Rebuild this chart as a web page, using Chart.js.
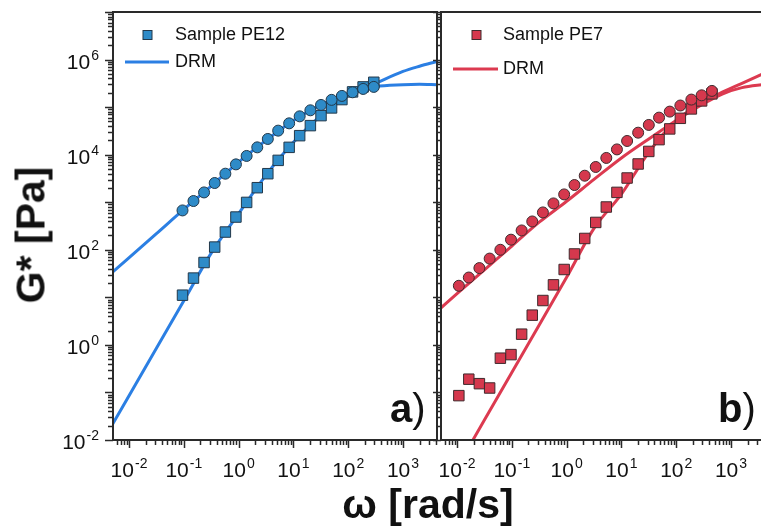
<!DOCTYPE html>
<html>
<head>
<meta charset="utf-8">
<script src="https://cdn.jsdelivr.net/npm/chart.js@4.4.1/dist/chart.umd.min.js"></script>
<style>
  html, body { margin: 0; padding: 0; background: #fff; overflow: hidden; }
  #wrap { position: relative; width: 761px; height: 531px; overflow: hidden;
          font-family: "Liberation Sans", Arial, sans-serif; color: #111; }
  #cA { position: absolute; left: 0; top: 0; }
  #cB { position: absolute; left: 430px; top: 0; }
  .ytitle { position: absolute; left: 31px; top: 235px; white-space: nowrap;
            font-weight: bold; font-size: 41px; line-height: 41px;
            transform: translate(-50%, -50%) rotate(-90deg); }
  .xtitle { position: absolute; left: 428px; top: 484px; white-space: nowrap;
            font-weight: bold; font-size: 41px; line-height: 41px;
            transform: translateX(-50%); }
  .panel { position: absolute; top: 388px; font-size: 40px; line-height: 40px; white-space: nowrap; }
  .panel b { font-weight: bold; }
</style>
</head>
<body>
<div id="wrap">
  <canvas id="cA" width="440" height="531"></canvas>
  <canvas id="cB" width="338" height="531"></canvas>
  <div class="ytitle">G* [Pa]</div>
  <div class="xtitle">ω [rad/s]</div>
  <div class="panel" style="left:390px"><b>a</b>)</div>
  <div class="panel" style="left:718px"><b>b</b>)</div>
</div>
<script>
// ---- data: panel a (Sample PE12) ----
const omegaA = [0.0946, 0.150, 0.234, 0.366, 0.573, 0.893, 1.40, 2.19, 3.41, 5.27,
                8.36, 13.0, 20.4, 31.9, 49.7, 76.7, 120, 187, 293];
const gppA = [672, 1060, 1607, 2535, 3981, 6250, 9400, 14250, 21400, 32000,
              45600, 64000, 85700, 111000, 142000, 172000, 205000, 241000, 266000];
const gpA  = [11.1, 25.4, 54, 114, 236, 488, 991, 2020, 3980, 7590,
              14250, 25100, 40800, 66200, 96200, 144000, 209000, 266000, 333000];
// DRM model curves, panel a
const drmOmegaA = [0.005, 0.0316, 0.1, 0.316, 1, 3.16, 10, 31.6, 100, 316, 1000, 2000, 4170];
const drmGppA   = [33.9, 219, 708, 2190, 7000, 19950, 52500, 111000, 190500, 269000, 295000, 302000, 295000];
const drmGpA    = [0.0214, 0.851, 8.51, 85.1, 575, 3715, 18200, 66100, 175800, 316000, 562000, 724000, 912000];

// ---- data: panel b (Sample PE7) ----
const omegaB = [0.0108, 0.0164, 0.0256, 0.0394, 0.0618, 0.0966, 0.151, 0.236, 0.369, 0.575,
                0.902, 1.39, 2.14, 3.40, 5.30, 8.28, 12.7, 20.2, 31.6, 48.6,
                76.2, 119, 189, 291, 448];
const gppB = [17.5, 26.1, 41.2, 65.3, 100, 163, 255, 394, 610, 944,
              1460, 2300, 3610, 5510, 8530, 12900, 19400, 29000, 42200, 60100,
              80400, 108000, 144000, 177000, 219000];
const gpB  = [0.0857, 0.19, 0.153, 0.124, 0.525, 0.625, 1.68, 4.22, 8.57, 18.3,
              38.5, 81.6, 173, 376, 793, 1610, 3230, 6370, 11700, 20700,
              34800, 58100, 91600, 135000, 190000];
// DRM model curves, panel b
const drmOmegaB = [0.005, 0.01, 0.0316, 0.1, 0.316, 1, 3.16, 10, 31.6, 100, 316, 708, 1585, 4170];
const drmGppB   = [5.89, 12.0, 38.0, 120, 380, 1047, 3020, 8510, 21400, 52500, 117500, 190500, 257000, 302000];
const drmGpB    = [0.00066, 0.00263, 0.0263, 0.263, 2.63, 26.3, 282, 1479, 11200, 52500, 126000, 209000, 316000, 525000];

// ---- axes ----
const xTickValues = [1e-2, 1e-1, 1, 1e1, 1e2, 1e3];
const yTickValues = [1e-2, 1, 1e2, 1e4, 1e6];
const xMin = 0.0051, xMax = 4170;
const yMin = 0.01, yMax = 1e7;

const FONT = '"Liberation Sans", Arial, sans-serif';
Chart.defaults.font.family = FONT;

const pairs = (xs, ys) => xs.map((x, i) => ({ x, y: ys[i] }));
const expOf = v => String(Math.round(Math.log10(v)));

// every decade gets a long tick, 2..9 get short ones
function logTicks(min, max) {
    const out = [];
    for (let d = Math.floor(Math.log10(min)); d <= Math.ceil(Math.log10(max)); d++) {
        for (let m = 1; m <= 9; m++) {
            const v = m * Math.pow(10, d);
            if (v >= min * 0.999 && v <= max * 1.001) out.push({ v, major: m === 1 });
        }
    }
    return out;
}

// "10" with a raised exponent; anchor: 'center' or 'right'
function drawPow(ctx, v, x, base, anchor) {
    const e = expOf(v);
    ctx.font = '21px ' + FONT;
    const w1 = ctx.measureText('10').width;
    ctx.font = '14px ' + FONT;
    const w2 = ctx.measureText(e).width;
    const total = w1 + 1 + w2;
    const x0 = anchor === 'right' ? x - total : x - total / 2;
    ctx.font = '21px ' + FONT;
    ctx.fillText('10', x0, base);
    ctx.font = '14px ' + FONT;
    ctx.fillText(e, x0 + w1 + 1, base - 9);
}

// box, tick marks and tick labels (drawn by hand for short minor ticks and superscripts)
const framePlugin = {
    id: 'frame',
    afterDatasetsDraw(chart, args, o) {
        const { ctx, chartArea: a, scales: { x, y } } = chart;
        ctx.save();
        ctx.strokeStyle = '#2a2a2a';
        ctx.lineWidth = 2;
        ctx.strokeRect(a.left, a.top, a.right - a.left, a.bottom - a.top);
        ctx.lineWidth = 1.5;
        ctx.beginPath();
        logTicks(x.min, x.max).forEach(t => {
            const p = Math.round(x.getPixelForValue(t.v)) + 0.5;
            ctx.moveTo(p, a.bottom);
            ctx.lineTo(p, a.bottom + (t.major ? 8 : 5));
        });
        logTicks(y.min, y.max).forEach(t => {
            const p = Math.round(y.getPixelForValue(t.v)) + 0.5;
            ctx.moveTo(a.left, p);
            ctx.lineTo(a.left - (t.major ? 8 : 5), p);
        });
        ctx.stroke();

        ctx.fillStyle = '#111';
        ctx.textBaseline = 'alphabetic';
        ctx.textAlign = 'left';
        xTickValues.forEach(v => drawPow(ctx, v, x.getPixelForValue(v), a.bottom + 37, 'center'));
        if (o.yLabels) {
            yTickValues.forEach(v => drawPow(ctx, v, a.left - 14, y.getPixelForValue(v) + 9, 'right'));
        }
        ctx.restore();
    }
};

// small legend in the upper-left of each panel
const keyPlugin = {
    id: 'key',
    afterDraw(chart, args, o) {
        const ctx = chart.ctx;
        ctx.save();
        ctx.fillStyle = o.fill;
        ctx.strokeStyle = o.edge;
        ctx.lineWidth = 1;
        ctx.fillRect(o.mx - 4.5, o.my - 4.5, 9, 9);
        ctx.strokeRect(o.mx - 4.5, o.my - 4.5, 9, 9);
        ctx.strokeStyle = o.line;
        ctx.lineWidth = 3;
        ctx.beginPath();
        ctx.moveTo(o.lx0, o.ly);
        ctx.lineTo(o.lx1, o.ly);
        ctx.stroke();
        ctx.fillStyle = '#111';
        ctx.font = '18px ' + FONT;
        ctx.textBaseline = 'middle';
        ctx.fillText(o.sample, o.tx, o.my);
        ctx.fillText('DRM', o.tx, o.ly);
        ctx.restore();
    }
};

function scales(yWidth) {
    const zeroPad = s => { s.paddingLeft = s.paddingRight = s.paddingTop = s.paddingBottom = 0; };
    return {
        x: {
            type: 'logarithmic', min: xMin, max: xMax,
            afterBuildTicks: s => { s.ticks = xTickValues.map(value => ({ value })); },
            afterFit: s => { s.height = 91; zeroPad(s); },
            grid: { display: false, drawTicks: false },
            border: { display: false },
            ticks: { display: false }
        },
        y: {
            type: 'logarithmic', min: yMin, max: yMax,
            afterBuildTicks: s => { s.ticks = yTickValues.map(value => ({ value })); },
            afterFit: s => { s.width = yWidth; zeroPad(s); },
            grid: { display: false, drawTicks: false },
            border: { display: false },
            ticks: { display: false }
        }
    };
}

function panelDatasets(omega, gpp, gp, drmW, drmGpp, drmGp, c) {
    const marker = { backgroundColor: c.fill, borderColor: c.edge, borderWidth: 1, showLine: false, order: 0 };
    const model = { borderColor: c.line, borderWidth: 3, pointRadius: 0, showLine: true,
                    cubicInterpolationMode: 'monotone', order: 1 };
    return [
        { ...marker, data: pairs(omega, gpp), pointStyle: 'circle', pointRadius: 5.5 },
        { ...marker, data: pairs(omega, gp), pointStyle: 'rect', pointRadius: 7.4 },
        { ...model, data: pairs(drmW, drmGpp) },
        { ...model, data: pairs(drmW, drmGp) }
    ];
}

const blue = { fill: '#2e8bc8', edge: '#22384a', line: '#2b7fe3' };
const red  = { fill: '#d5384d', edge: '#3f2a2d', line: '#dc3a50' };

new Chart(document.getElementById('cA'), {
    type: 'scatter',
    data: { datasets: panelDatasets(omegaA, gppA, gpA, drmOmegaA, drmGppA, drmGpA, blue) },
    options: {
        responsive: false, animation: false,
        layout: { autoPadding: false, padding: { left: 0, top: 12, right: 3, bottom: 0 } },
        scales: scales(113),
        plugins: {
            legend: { display: false }, tooltip: { enabled: false },
            frame: { yLabels: true },
            key: { sample: 'Sample PE12', fill: blue.fill, edge: blue.edge, line: blue.line,
                   mx: 147.5, my: 35, lx0: 125, lx1: 169, ly: 62, tx: 175 }
        }
    },
    plugins: [framePlugin, keyPlugin]
});

new Chart(document.getElementById('cB'), {
    type: 'scatter',
    data: { datasets: panelDatasets(omegaB, gppB, gpB, drmOmegaB, drmGppB, drmGpB, red) },
    options: {
        responsive: false, animation: false,
        layout: { autoPadding: false, padding: { left: 0, top: 12, right: 3, bottom: 0 } },
        scales: scales(11),
        plugins: {
            legend: { display: false }, tooltip: { enabled: false },
            frame: { yLabels: false },
            key: { sample: 'Sample PE7', fill: red.fill, edge: red.edge, line: red.line,
                   mx: 46.5, my: 35, lx0: 23, lx1: 68, ly: 69, tx: 73 }
        }
    },
    plugins: [framePlugin, keyPlugin]
});
</script>
</body>
</html>
